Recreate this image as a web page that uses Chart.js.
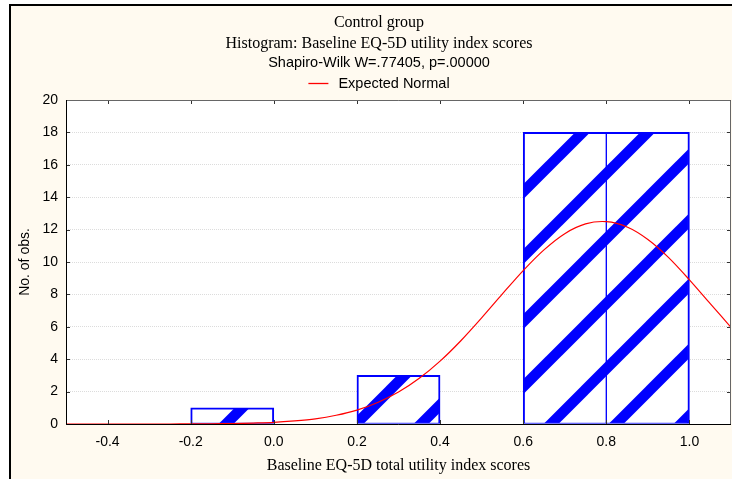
<!DOCTYPE html>
<html>
<head>
<meta charset="utf-8">
<script src="https://cdn.jsdelivr.net/npm/chart.js@4.4.1/dist/chart.umd.min.js"></script>
<style>
  html, body { margin: 0; padding: 0; background: #fff; }
  #wrap { width: 732px; height: 479px; }
</style>
</head>
<body>
<div id="wrap"><canvas id="chart" width="732" height="479"></canvas></div>
<script>
// histogram bins (start / end / count)
const binStarts = [-0.2, 0.2, 0.6, 0.8];
const binEnds = [0.0, 0.4, 0.8, 1.0];
const binCounts = [1, 3, 18, 18];

// expected normal curve
const normalX = [-0.5, -0.45, -0.4, -0.35, -0.3, -0.25, -0.2, -0.15, -0.1, -0.05, 0.0,
  0.05, 0.1, 0.15, 0.2, 0.25, 0.3, 0.35, 0.4, 0.45, 0.5, 0.55, 0.6, 0.65, 0.7,
  0.75, 0.8, 0.85, 0.9, 0.95, 1.0, 1.05, 1.1];
const normalY = [0, 0, 0, 0, 0, 0, 0.01, 0.01, 0.03, 0.06, 0.1,
  0.19, 0.32, 0.54, 0.86, 1.33, 1.97, 2.82, 3.88, 5.14, 6.55, 8.03, 9.47, 10.75, 11.75,
  12.35, 12.49, 12.16, 11.39, 10.27, 8.9, 7.43, 5.97];

const xTicks = [-0.4, -0.2, 0.0, 0.2, 0.4, 0.6, 0.8, 1.0];
const yTicks = [0, 2, 4, 6, 8, 10, 12, 14, 16, 18, 20];

const titleLines = ['Control group', 'Histogram: Baseline EQ-5D utility index scores'];
const subtitleText = 'Shapiro-Wilk W=.77405, p=.00000';
const xTitle = 'Baseline EQ-5D total utility index scores';
const yTitle = 'No. of obs.';

const SERIF = '"Liberation Serif", "Times New Roman", serif';
const SANS = '"Liberation Sans", Arial, sans-serif';

// 斜線パターン
function makeStripePattern() {
  const size = 65;
  const c = document.createElement('canvas');
  c.width = size;
  c.height = size;
  const g = c.getContext('2d');
  g.fillStyle = '#fff';
  g.fillRect(0, 0, size, size);
  g.strokeStyle = '#0000ff';
  g.lineWidth = 10.5;
  [0, size, size * 2].forEach(k => {
    g.beginPath();
    g.moveTo(-10, k + 10);
    g.lineTo(k + 10, -10);
    g.stroke();
  });
  return g.createPattern(c, 'repeat');
}

// 背景・枠・タイトル
const framePlugin = {
  id: 'frame',
  beforeDraw(chart) {
    const { ctx, chartArea: a, width, height } = chart;
    ctx.save();
    ctx.fillStyle = '#fff';
    ctx.fillRect(0, 0, width, height);
    ctx.fillStyle = '#fffaf0';
    ctx.fillRect(11, 6, width - 11, height - 6);
    ctx.fillStyle = '#000';
    ctx.fillRect(9, 4, 2, height - 4);
    ctx.fillRect(9, 4, width - 9, 2);
    ctx.fillStyle = '#fff';
    ctx.fillRect(a.left, a.top, a.right - a.left, a.bottom - a.top);

    // titles
    const cx = 379;
    ctx.fillStyle = '#000';
    ctx.textAlign = 'center';
    ctx.textBaseline = 'middle';
    ctx.font = '16px ' + SERIF;
    ctx.fillText(titleLines[0], cx, 23);
    ctx.fillText(titleLines[1], cx, 44);
    ctx.font = '14.5px ' + SANS;
    ctx.fillText(subtitleText, cx, 63);

    // legend
    const ds = chart.data.datasets[0];
    const tw = ctx.measureText(ds.label).width;
    const lx = cx - (tw + 30) / 2;
    ctx.strokeStyle = ds.borderColor;
    ctx.lineWidth = 1.3;
    ctx.beginPath();
    ctx.moveTo(lx, 83.5);
    ctx.lineTo(lx + 20, 83.5);
    ctx.stroke();
    ctx.textAlign = 'left';
    ctx.fillText(ds.label, lx + 30, 83.5);
    ctx.restore();
  },
  afterDatasetsDraw(chart) {
    const { ctx, chartArea: a, scales } = chart;
    ctx.save();
    ctx.lineWidth = 1;
    // inward ticks
    ctx.strokeStyle = '#333';
    ctx.beginPath();
    xTicks.forEach(v => {
      const px = Math.round(scales.x.getPixelForValue(v)) + 0.5;
      ctx.moveTo(px, a.bottom);
      ctx.lineTo(px, a.bottom - 4);
      ctx.moveTo(px, a.top);
      ctx.lineTo(px, a.top + 4);
    });
    yTicks.forEach(v => {
      const py = Math.round(scales.y.getPixelForValue(v)) + 0.5;
      ctx.moveTo(a.left, py);
      ctx.lineTo(a.left + 4, py);
      ctx.moveTo(a.right, py);
      ctx.lineTo(a.right - 4, py);
    });
    ctx.stroke();
    // plot frame
    ctx.strokeStyle = '#666';
    ctx.beginPath();
    ctx.moveTo(a.left, a.top + 0.5);
    ctx.lineTo(a.right - 0.5, a.top + 0.5);
    ctx.lineTo(a.right - 0.5, a.bottom);
    ctx.stroke();
    ctx.strokeStyle = '#000';
    ctx.beginPath();
    ctx.moveTo(a.left + 0.5, a.top);
    ctx.lineTo(a.left + 0.5, a.bottom + 0.5);
    ctx.lineTo(a.right, a.bottom + 0.5);
    ctx.stroke();
    ctx.restore();
  }
};

window.addEventListener('DOMContentLoaded', () => {
  Chart.defaults.font.family = SANS;
  Chart.defaults.font.size = 14;
  Chart.defaults.color = '#000';

  const stripes = makeStripePattern();

  const barData = binCounts.map((c, i) => ({ x: (binStarts[i] + binEnds[i]) / 2, y: c }));
  const curveData = normalX.map((x, i) => ({ x: x, y: normalY[i] }));

  new Chart(document.getElementById('chart'), {
    type: 'bar',
    data: {
      datasets: [{
        type: 'line',
        label: 'Expected Normal',
        data: curveData,
        borderColor: '#ff0000',
        borderWidth: 1.2,
        pointRadius: 0,
        tension: 0.3,
        order: 0
      }, {
        type: 'bar',
        label: 'Counts',
        data: barData,
        backgroundColor: stripes,
        borderColor: '#0000ff',
        borderSkipped: false,
        borderWidth: (ctx) => {
          const i = ctx.dataIndex;
          if (i === undefined) return 2;
          const leftShared = i > 0 && binStarts[i] === binEnds[i - 1];
          const rightShared = i < binStarts.length - 1 && binEnds[i] === binStarts[i + 1];
          return { top: 2, bottom: 1, left: leftShared ? 1 : 2, right: rightShared ? 1 : 2 };
        },
        barPercentage: 1,
        categoryPercentage: 1,
        order: 1
      }]
    },
    options: {
      responsive: false,
      devicePixelRatio: 1,
      animation: false,
      layout: {
        padding: { top: 100, left: 12, right: 1, bottom: 0 }
      },
      plugins: {
        legend: { display: false },
        title: { display: false },
        tooltip: { enabled: false }
      },
      scales: {
        x: {
          type: 'linear',
          min: -0.5,
          max: 1.1,
          offset: false,
          afterBuildTicks: (scale) => {
            scale.ticks = xTicks.map(v => ({ value: v }));
          },
          afterFit: (scale) => {
            scale.height = 55;
          },
          ticks: {
            padding: 2,
            callback: (v) => Number(v).toFixed(1)
          },
          grid: { display: false },
          border: { display: false },
          title: {
            display: true,
            text: xTitle,
            font: { family: SERIF, size: 16 },
            padding: { top: 0, bottom: 4 }
          }
        },
        y: {
          min: 0,
          max: 20,
          afterBuildTicks: (scale) => {
            scale.ticks = yTicks.map(v => ({ value: v }));
          },
          afterFit: (scale) => {
            scale.width = 54;
          },
          ticks: {
            padding: 8
          },
          grid: {
            color: '#dcdcdc',
            lineWidth: 1,
            drawTicks: false
          },
          border: { display: false, dash: [1, 1] },
          title: {
            display: true,
            text: yTitle,
            padding: { top: 5, bottom: 0 }
          }
        }
      }
    },
    plugins: [framePlugin]
  });
});
</script>
</body>
</html>
